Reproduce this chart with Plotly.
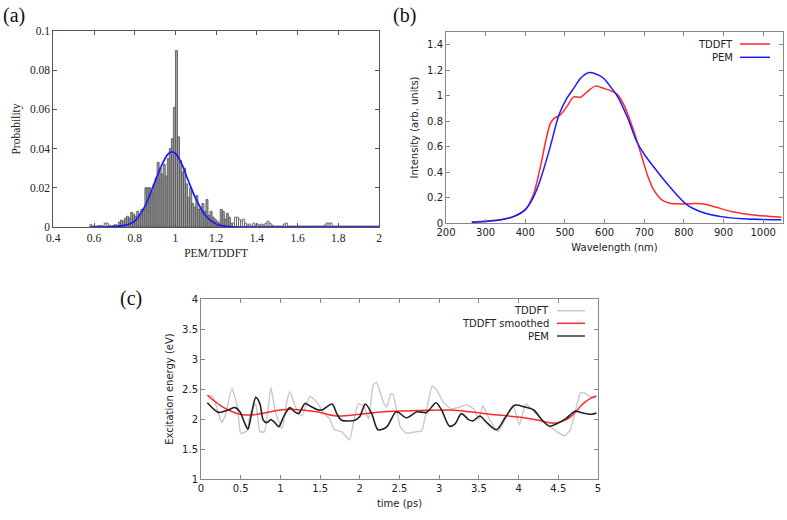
import plotly.graph_objects as go

# ---------------- (a) histogram PEM/TDDFT ----------------
hist_start = 0.58
hist_width = 0.01
hist_prob = [
    0.0012, 0.0005, 0.0005, 0.0005, 0.0008, 0.0008, 0.0005, 0.002, 0.002, 0.001,      # 0.58-0.67
    0.0005, 0.0008, 0.0012, 0.0008, 0.0025, 0.0035, 0.003, 0.0045, 0.0055, 0.0045,    # 0.68-0.77
    0.0075, 0.0065, 0.0055, 0.008, 0.0065, 0.009, 0.0095, 0.02, 0.02, 0.02,           # 0.78-0.87
    0.018, 0.022, 0.025, 0.033, 0.030, 0.027, 0.032, 0.026, 0.035, 0.040,            # 0.88-0.97
    0.045, 0.061, 0.090, 0.046, 0.034, 0.028, 0.030, 0.022, 0.015, 0.020,            # 0.98-1.07
    0.012, 0.010, 0.016, 0.009, 0.010, 0.012, 0.008, 0.014, 0.006, 0.008,            # 1.08-1.17
    0.005, 0.004, 0.003, 0.002, 0.009, 0.008, 0.004, 0.007, 0.005, 0.002,            # 1.18-1.27
    0.002, 0.005, 0.005, 0.004, 0.003, 0.004, 0.002, 0.001, 0.0015, 0.0005,          # 1.28-1.37
    0.002, 0.001, 0.0015, 0.001, 0.0015, 0.001, 0.002, 0.003, 0.002, 0.001,          # 1.38-1.47
    0.0005, 0.0005, 0.0005, 0.0005, 0.0005, 0.0015, 0.002, 0.0005, 0.0005, 0.0005,   # 1.48-1.57
    0.0005, 0.0005, 0.0005, 0.0005, 0.0005, 0.0005, 0.0005, 0.0005, 0.0005, 0.0005,  # 1.58-1.67
    0.0005, 0.0005, 0.0005, 0.0005, 0.0005, 0.001, 0.002, 0.002, 0.002, 0.0005,      # 1.68-1.77
    0.0005, 0.0005, 0.0005, 0.0005, 0.0005, 0.0005, 0.0005, 0.0005, 0.0005, 0.0005,  # 1.78-1.87
    0.0005, 0.0005, 0.0005, 0.0005, 0.0005, 0.0005, 0.0005, 0.0005, 0.0005, 0.0005,  # 1.88-1.97
    0.0005, 0.0005,                                                                    # 1.98-1.99
]
fit_x = [0.58, 0.65, 0.70, 0.75, 0.80, 0.85, 0.90, 0.93, 0.96, 0.98, 1.00, 1.03,
         1.06, 1.10, 1.15, 1.20, 1.25, 1.30, 1.40, 2.00]
fit_y = [0.0, 0.0, 0.0002, 0.0008, 0.003, 0.0105, 0.0232, 0.031, 0.0368, 0.0383,
         0.0375, 0.0325, 0.0245, 0.0145, 0.0055, 0.0015, 0.0003, 0.0, 0.0, 0.0]

# ---------------- (b) spectra ----------------
wl_tddft = [265, 300, 340, 370, 400, 420, 438, 452, 463, 472, 489, 506, 522, 539,
            556, 577, 598, 615, 632, 649, 670, 691, 710, 724, 745, 765, 790, 820,
            850, 880, 920, 970, 1046]
int_tddft = [0.008, 0.015, 0.028, 0.05, 0.105, 0.22, 0.44, 0.65, 0.78, 0.82, 0.85,
             0.92, 0.99, 0.987, 1.03, 1.075, 1.057, 1.04, 1.01, 0.926, 0.756, 0.55,
             0.36, 0.26, 0.18, 0.155, 0.15, 0.152, 0.15, 0.125, 0.09, 0.065, 0.045]
wl_pem = [265, 300, 340, 370, 400, 420, 438, 463, 485, 505, 522, 539, 559, 578,
          598, 615, 632, 657, 681, 700, 724, 760, 809, 850, 894, 950, 1046]
int_pem = [0.005, 0.012, 0.025, 0.05, 0.105, 0.2, 0.34, 0.6, 0.85, 0.98, 1.057,
           1.135, 1.18, 1.17, 1.135, 1.07, 0.997, 0.834, 0.64, 0.54, 0.44, 0.3,
           0.14, 0.08, 0.05, 0.033, 0.025]

# ---------------- (c) excitation energy vs time ----------------
t_tddft = [0.09, 0.15, 0.22, 0.26, 0.30, 0.39, 0.46, 0.5, 0.58, 0.62, 0.69, 0.74,
           0.80, 0.88, 0.94, 1.02, 1.08, 1.12, 1.19, 1.27, 1.37, 1.46, 1.54, 1.62,
           1.68, 1.77, 1.87, 1.92, 1.98, 2.05, 2.11, 2.17, 2.21, 2.3, 2.34, 2.39,
           2.42, 2.51, 2.59, 2.72, 2.78, 2.91, 2.97, 3.05, 3.15, 3.26, 3.34, 3.44,
           3.5, 3.55, 3.64, 3.74, 3.85, 3.93, 4.01, 4.09, 4.18, 4.3, 4.48, 4.58,
           4.65, 4.71, 4.78, 4.84, 4.9, 4.98]
e_tddft = [2.38, 2.38, 2.09, 1.94, 2.04, 2.51, 2.2, 1.76, 1.8, 2.09, 2.25, 1.79,
           1.79, 2.52, 2.1, 1.84, 2.28, 2.46, 2.2, 2.05, 2.38, 2.28, 2.11, 2.0,
           1.82, 1.79, 1.65, 1.93, 2.25, 2.22, 2.0, 2.57, 2.61, 2.27, 2.2, 2.42,
           2.41, 1.87, 1.76, 1.79, 1.8, 2.55, 2.48, 2.28, 2.17, 2.2, 2.24, 2.16,
           1.99, 2.22, 1.98, 1.79, 2.04, 2.23, 1.9, 2.25, 2.15, 1.98, 1.79, 1.72,
           1.82, 2.1, 2.44, 2.43, 2.37, 2.38]
t_smooth = [0.08, 0.15, 0.26, 0.38, 0.49, 0.62, 0.8, 1.0, 1.17, 1.46, 1.71, 2.0,
            2.3, 2.72, 3.14, 3.39, 3.64, 4.02, 4.25, 4.43, 4.55, 4.65, 4.72, 4.8,
            4.9, 4.98]
e_smooth = [2.40, 2.32, 2.21, 2.13, 2.08, 2.065, 2.10, 2.15, 2.16, 2.12, 2.05, 2.08,
            2.12, 2.14, 2.15, 2.12, 2.08, 2.03, 1.98, 1.93, 1.96, 2.03, 2.12, 2.24,
            2.34, 2.38]
t_pem = [0.08, 0.22, 0.34, 0.43, 0.49, 0.55, 0.59, 0.63, 0.69, 0.74, 0.785, 0.83,
         0.88, 0.93, 0.98, 1.04, 1.12, 1.18, 1.23, 1.31, 1.37, 1.48, 1.54, 1.65,
         1.71, 1.77, 1.94, 2.0, 2.07, 2.15, 2.23, 2.34, 2.46, 2.59, 2.72, 2.84,
         2.96, 3.03, 3.13, 3.2, 3.28, 3.37, 3.43, 3.51, 3.6, 3.72, 3.83, 3.95,
         4.08, 4.19, 4.31, 4.39, 4.48, 4.6, 4.71, 4.81, 4.92, 4.98]
e_pem = [2.27, 2.11, 2.15, 2.19, 2.12, 1.93, 1.83, 2.04, 2.36, 2.26, 1.98, 1.94,
         1.99, 1.94, 1.87, 2.04, 2.19, 2.12, 2.09, 2.26, 2.22, 2.15, 2.16, 2.25,
         2.09, 1.98, 1.98, 2.04, 2.25, 2.09, 1.82, 1.87, 2.12, 2.02, 2.12, 2.11,
         2.27, 2.15, 1.88, 1.92, 2.09, 1.99, 1.97, 2.05, 1.94, 1.82, 2.02, 2.23,
         2.2, 2.15, 1.96, 1.88, 1.92, 2.01, 2.13, 2.1, 2.08, 2.1]

W, H = 787, 520
RED = "#ff2a2a"
BLUE = "#1a1aff"
SANS = "DejaVu Sans"
SERIF = "Liberation Serif"

fig = go.Figure()

# (a)
centers = [round(hist_start + hist_width * (i + 0.5), 4) for i in range(len(hist_prob))]
bar_colors = ["white" if (c < 0.68 or c > 1.275) else "#a0a0a0" for c in centers]
fig.add_trace(go.Bar(x=centers, y=hist_prob, width=hist_width,
                     marker=dict(color=bar_colors, line=dict(color="#505050", width=0.8)),
                     xaxis="x", yaxis="y", showlegend=False, hoverinfo="skip"))
fig.add_trace(go.Scatter(x=fit_x, y=fit_y, mode="lines",
                         line=dict(color=BLUE, width=1.7, shape="spline", smoothing=0.8),
                         xaxis="x", yaxis="y", showlegend=False))

# (b)
fig.add_trace(go.Scatter(x=wl_tddft, y=int_tddft, mode="lines",
                         line=dict(color=RED, width=1.5, shape="spline", smoothing=0.9),
                         xaxis="x2", yaxis="y2", showlegend=False))
fig.add_trace(go.Scatter(x=wl_pem, y=int_pem, mode="lines",
                         line=dict(color=BLUE, width=1.5, shape="spline", smoothing=0.9),
                         xaxis="x2", yaxis="y2", showlegend=False))

# (c)
fig.add_trace(go.Scatter(x=t_tddft, y=e_tddft, mode="lines",
                         line=dict(color="#c8c8c8", width=1.4, shape="spline", smoothing=0.4),
                         xaxis="x3", yaxis="y3", showlegend=False))
fig.add_trace(go.Scatter(x=t_smooth, y=e_smooth, mode="lines",
                         line=dict(color=RED, width=1.5, shape="spline", smoothing=0.9),
                         xaxis="x3", yaxis="y3", showlegend=False))
fig.add_trace(go.Scatter(x=t_pem, y=e_pem, mode="lines",
                         line=dict(color="#222222", width=1.6, shape="spline", smoothing=0.8),
                         xaxis="x3", yaxis="y3", showlegend=False))


def px_x(p):
    return p / W


def px_y(p):
    return 1 - p / H


def axis(domain, rng, dtick, font, size, linecolor, anchor, title=None, standoff=4):
    d = dict(domain=domain, range=rng, dtick=dtick, tick0=rng[0],
             ticks="inside", ticklen=4, tickcolor=linecolor, mirror="ticks",
             showline=True, linecolor=linecolor, linewidth=1, showgrid=False,
             zeroline=False, anchor=anchor, automargin=False,
             tickfont=dict(family=font, size=size, color="#222"))
    if title:
        d["title"] = dict(text=title, font=dict(family=font, size=size, color="#222"),
                          standoff=standoff)
    return d


layout = dict(
    width=W, height=H, margin=dict(l=0, r=0, t=0, b=0, autoexpand=False),
    template="none",
    paper_bgcolor="white", plot_bgcolor="white", showlegend=False,
    xaxis=axis([px_x(53.3), px_x(379)], [0.4, 2], 0.2, SERIF, 11.5, "#555", "y", "PEM/TDDFT", 6),
    yaxis=axis([px_y(227), px_y(31)], [0, 0.1], 0.02, SERIF, 11.5, "#555", "x", "Probability", 6),
    xaxis2=axis([px_x(446), px_x(783)], [200, 1050], 100, SANS, 10, "#888", "y2", "Wavelength (nm)", 6),
    yaxis2=axis([px_y(223), px_y(32)], [0, 1.5], 0.2, SANS, 10, "#888", "x2", "Intensity (arb. units)", 6),
    xaxis3=axis([px_x(201), px_x(598)], [0, 5], 0.5, SANS, 10, "#888", "y3", "time (ps)", 6),
    yaxis3=axis([px_y(479), px_y(299)], [1, 4], 0.5, SANS, 10, "#888", "x3", "Excitation energy (eV)", 6),
)
fig.update_layout(**layout)

annotations = [
    dict(text="(a)", x=px_x(1), y=px_y(2), xanchor="left", yanchor="top",
         font=dict(family=SERIF, size=20, color="#111")),
    dict(text="(b)", x=px_x(391), y=px_y(2), xanchor="left", yanchor="top",
         font=dict(family=SERIF, size=20, color="#111")),
    dict(text="(c)", x=px_x(118), y=px_y(285), xanchor="left", yanchor="top",
         font=dict(family=SERIF, size=20, color="#111")),
]
shapes = []
# legend (b)
for label, color, ypix in [("TDDFT", RED, 44), ("PEM", BLUE, 57.3)]:
    annotations.append(dict(text=label, x=px_x(735), y=px_y(ypix), xanchor="right",
                            yanchor="middle", font=dict(family=SANS, size=10, color="#222")))
    shapes.append(dict(type="line", xref="paper", yref="paper", x0=px_x(740), x1=px_x(770),
                       y0=px_y(ypix), y1=px_y(ypix), line=dict(color=color, width=1.5)))
# legend (c)
for label, color, ypix in [("TDDFT", "#c8c8c8", 310.7), ("TDDFT smoothed", RED, 323.3),
                           ("PEM", "#333333", 336)]:
    annotations.append(dict(text=label, x=px_x(551), y=px_y(ypix), xanchor="right",
                            yanchor="middle", font=dict(family=SANS, size=10, color="#222")))
    shapes.append(dict(type="line", xref="paper", yref="paper", x0=px_x(557), x1=px_x(585),
                       y0=px_y(ypix), y1=px_y(ypix), line=dict(color=color, width=1.5)))

for a in annotations:
    a.update(xref="paper", yref="paper", showarrow=False)
fig.update_layout(annotations=annotations, shapes=shapes)

fig.write_html("out.html", config={"displayModeBar": False},
               post_script="document.body.style.margin='0';document.body.style.overflow='hidden';")
